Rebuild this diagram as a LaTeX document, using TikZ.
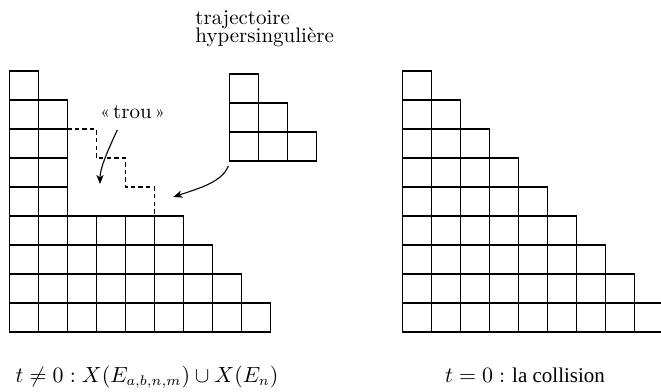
\documentclass[tikz,border=0pt]{standalone}
\usepackage{fontspec}
\newfontfamily\timesf{Liberation Serif}
\usetikzlibrary{arrows.meta}
\tikzset{
  cell/.style={draw=black, line width=0.55pt},
  hole/.style={draw=black, line width=0.55pt, dash pattern=on 2.2pt off 1.6pt},
  pointer/.style={draw=black, line width=0.55pt, -{Stealth[length=4.5pt,width=3.6pt,inset=1.2pt]}},
  lbl/.style={inner sep=0pt, font=\fontsize{10.5}{12}\selectfont},
}
\newcommand{\smallguil}[1]{\raisebox{0.4pt}{\fontsize{8}{8}\selectfont #1}}
\begin{document}
\begin{tikzpicture}[x=0.5pt, y=-0.5pt]
\clip (0,0) rectangle (661,392);
% left staircase with hole
\foreach \i/\h in {0/9,1/8,2/4,3/4,4/4,5/4,6/3,7/2,8/1}{
  \foreach \j in {1,...,\h}{
    \draw[cell] (9.3+\i*29, 332-\j*29) rectangle +(29,29);
  }
}
% dashed outline of the hole
\draw[hole] (67.3,129) -- (96.3,129) -- (96.3,158) -- (125.3,158) -- (125.3,187) -- (154.3,187) -- (154.3,216);
% small hypersingular trajectory
\foreach \i/\h in {0/3,1/2,2/1}{
  \foreach \j in {1,...,\h}{
    \draw[cell] (229.7+\i*29, 161-\j*29) rectangle +(29,29);
  }
}
% right full staircase
\foreach \i/\h in {0/9,1/8,2/7,3/6,4/5,5/4,6/3,7/2,8/1}{
  \foreach \j in {1,...,\h}{
    \draw[cell] (402.3+\i*29, 332-\j*29) rectangle +(29,29);
  }
}
% labels
\node[lbl, anchor=base west] (traj1) at (195,24) {trajectoire};
\node[lbl, anchor=base west] (traj2) at (195,42) {hypersingulière};
\node[lbl, anchor=base] (trou) at (132.5,118) {\smallguil{«}\,trou\,\smallguil{»}};
\coordinate (trouS) at (117.3,130);
\coordinate (trouE) at (100,184);
\coordinate (trajS) at (228.3,166);
\coordinate (trajE) at (173.3,197);
\draw[pointer] (trouS) .. controls (108,150) and (100,168) .. (trouE);
\draw[pointer] (trajS) .. controls (222,182) and (200,188) .. (trajE);
\node[lbl, anchor=base] (capL) at (147,382) {$t\neq 0 : X(E_{a,b,n,m})\cup X(E_n)$};
\node[lbl, anchor=base] (capR) at (525,382) {$t=0:$ \timesf la collision};
\end{tikzpicture}
\end{document}
